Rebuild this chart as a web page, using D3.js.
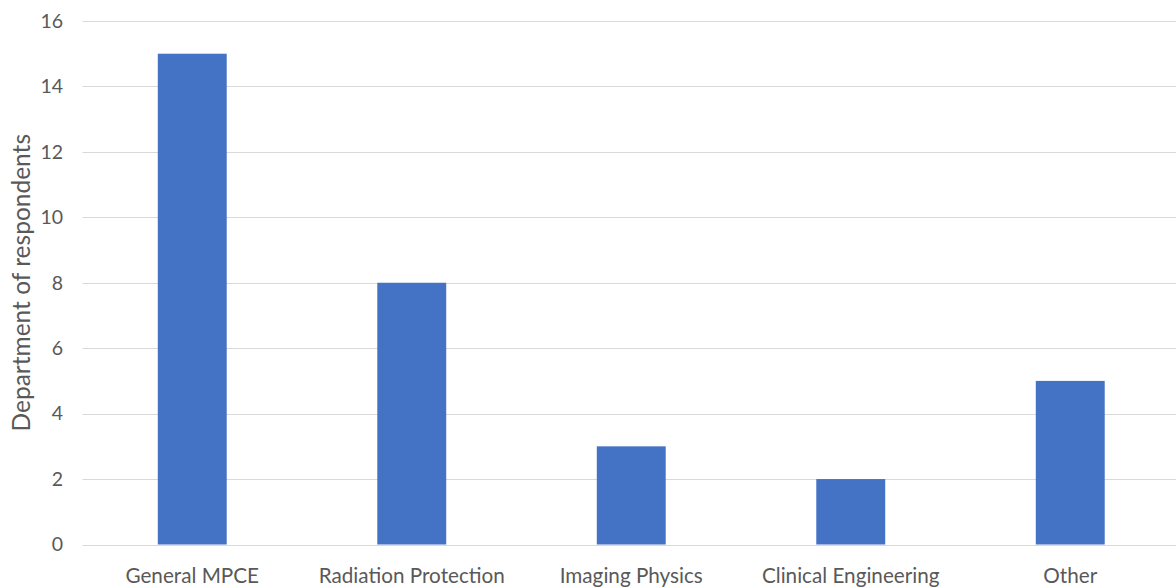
<!DOCTYPE html>
<html>
<head>
<meta charset="utf-8">
<script src="https://cdn.jsdelivr.net/npm/d3@7"></script>
<style>
  html, body { margin: 0; padding: 0; background: #fff; }
  svg { display: block; }
  text { font-family: Lato, "Open Sans", sans-serif; fill: #595959; }
</style>
</head>
<body>
<svg id="chart" width="1176" height="588"></svg>
<script>
// Respondents by department
const categories = ["General MPCE", "Radiation Protection", "Imaging Physics", "Clinical Engineering", "Other"];
const counts = [15, 8, 3, 2, 5];
const yTicks = [0, 2, 4, 6, 8, 10, 12, 14, 16];
const yTitle = "Department of respondents";

const W = 1176, H = 588;
const margin = { top: 21, right: -4, bottom: 43, left: 82.5 };
const svg = d3.select("#chart");

const x = d3.scaleBand()
  .domain(categories)
  .range([margin.left, W - margin.right])
  .paddingInner(0.686)
  .paddingOuter(0.343);

const y = d3.scaleLinear()
  .domain([0, 16])
  .range([H - margin.bottom - 0.5, margin.top]);

// horizontal gridlines
svg.append("g")
  .selectAll("line")
  .data(yTicks)
  .join("line")
  .attr("x1", margin.left)
  .attr("x2", W)
  .attr("y1", d => Math.round(y(d)) + 0.5)
  .attr("y2", d => Math.round(y(d)) + 0.5)
  .attr("stroke", "#d9d9d9")
  .attr("stroke-width", 1);

// bars
svg.append("g")
  .selectAll("rect")
  .data(categories)
  .join("rect")
  .attr("x", d => x(d))
  .attr("width", x.bandwidth())
  .attr("y", (d, i) => y(counts[i]))
  .attr("height", (d, i) => y(0) - y(counts[i]))
  .attr("fill", "#4472c4");

// y-axis tick labels
const yAxis = d3.axisLeft(y).tickValues(yTicks).tickSize(0).tickPadding(0);
const gy = svg.append("g")
  .attr("transform", `translate(${margin.left - 19.5},0)`)
  .call(yAxis);
gy.select(".domain").remove();
gy.selectAll("text")
  .style("font-family", "Lato, 'Open Sans', sans-serif")
  .style("font-size", "19.5px")
  .attr("fill", "#595959");

// x-axis category labels
const xAxis = d3.axisBottom(x).tickSize(0).tickPadding(0);
const gx = svg.append("g")
  .attr("transform", `translate(0,${y(0) + 24})`)
  .call(xAxis);
gx.select(".domain").remove();
gx.selectAll("text")
  .style("font-family", "Lato, 'Open Sans', sans-serif")
  .style("font-size", "20.7px")
  .attr("fill", "#595959");

// y-axis title
svg.append("text")
  .attr("transform", `translate(30,${(y(0) + y(16)) / 2}) rotate(-90)`)
  .attr("text-anchor", "middle")
  .style("font-size", "24.5px")
  .text(yTitle);
</script>
</body>
</html>
